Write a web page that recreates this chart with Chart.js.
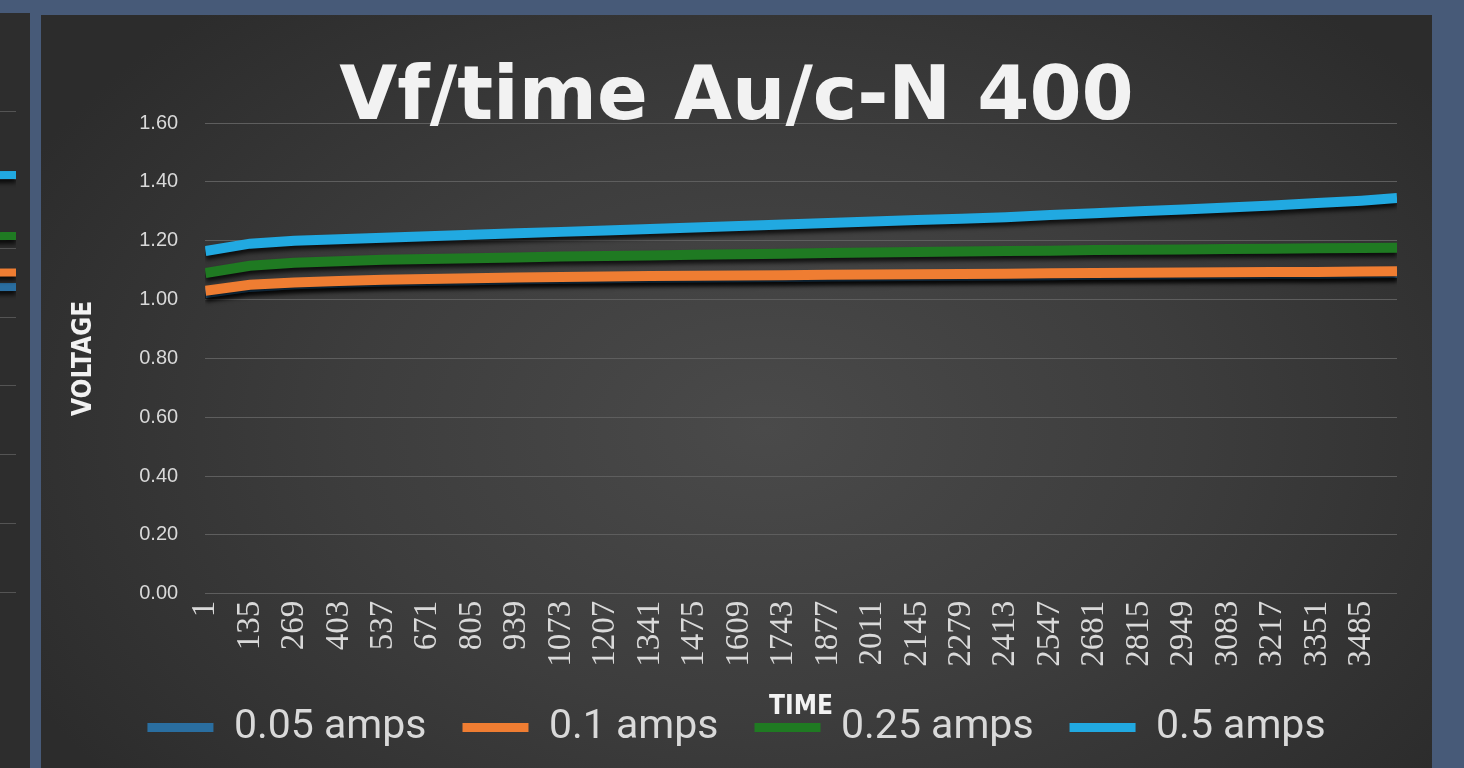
<!DOCTYPE html>
<html>
<head>
<meta charset="utf-8">
<script src="https://cdn.jsdelivr.net/npm/chart.js"></script>
<style>
  body { margin: 0; width: 1464px; height: 768px; background: #475a78; position: relative; overflow: hidden; }
  #side { position: absolute; left: 0; top: 13px; width: 30px; height: 755px; overflow: hidden; background: #2d2d2d; }
  #side canvas { position: absolute; left: -570px; top: 0; }
  #panel { position: absolute; left: 41px; top: 15px; width: 1391px; height: 753px;
    background: radial-gradient(ellipse 60% 75% at 52% 55%, #4a4a4a 0%, #3d3d3d 50%, #2c2c2c 100%); }
</style>
</head>
<body>
<div id="side"><canvas id="sideChart" width="600" height="755"></canvas></div>
<div id="panel"><canvas id="myChart" width="1391" height="753"></canvas></div>
<script>
// x axis labels (Excel category labels every 134 samples)
var timeTicks = [1, 135, 269, 403, 537, 671, 805, 939, 1073, 1207, 1341, 1475, 1609, 1743, 1877,
  2011, 2145, 2279, 2413, 2547, 2681, 2815, 2949, 3083, 3217, 3351, 3485];
// sample times
var sampleTimes = [1, 135, 269, 403, 537, 671, 805, 939, 1073, 1207, 1341, 1475, 1609, 1743, 1877,
  2011, 2145, 2279, 2413, 2547, 2681, 2815, 2949, 3083, 3217, 3351, 3485, 3592];

var amps005 = [1.022, 1.043, 1.052, 1.057, 1.061, 1.064, 1.066, 1.069, 1.071, 1.072, 1.074, 1.075, 1.076,
  1.077, 1.078, 1.079, 1.080, 1.081, 1.082, 1.083, 1.084, 1.085, 1.086, 1.087, 1.088, 1.088, 1.089, 1.090];
var amps01 = [1.030, 1.050, 1.058, 1.063, 1.067, 1.070, 1.072, 1.075, 1.077, 1.078, 1.080, 1.081, 1.082,
  1.083, 1.084, 1.085, 1.086, 1.087, 1.088, 1.089, 1.090, 1.091, 1.092, 1.093, 1.094, 1.094, 1.095, 1.096];
var amps025 = [1.090, 1.115, 1.125, 1.130, 1.135, 1.138, 1.140, 1.143, 1.146, 1.148, 1.150, 1.152, 1.154,
  1.156, 1.158, 1.160, 1.162, 1.163, 1.165, 1.166, 1.168, 1.169, 1.170, 1.172, 1.173, 1.174, 1.175, 1.176];
var amps05 = [1.165, 1.190, 1.200, 1.205, 1.210, 1.215, 1.220, 1.225, 1.230, 1.235, 1.240, 1.245, 1.250,
  1.255, 1.260, 1.265, 1.270, 1.275, 1.280, 1.287, 1.293, 1.300, 1.306, 1.313, 1.320, 1.328, 1.336, 1.345];

var seriesNames = ['0.05 amps', '0.1 amps', '0.25 amps', '0.5 amps'];
var seriesColors = ['#2a6ea0', '#ef7d32', '#1f7a22', '#21a9e1'];

// neighbouring chart, only its right end is visible
var sideTimes = [0, 50, 100];
var side005 = [0.880, 0.885, 0.888];
var side01 = [0.925, 0.928, 0.930];
var side025 = [1.030, 1.034, 1.036];
var side05 = [1.205, 1.210, 1.214];

Chart.defaults.color = '#d9d9d9';

var lineShadow = {
  id: 'lineShadow',
  beforeDatasetDraw: function (chart) {
    var c = chart.ctx;
    c.save();
    c.shadowColor = 'rgba(0,0,0,0.75)';
    c.shadowBlur = 4;
    c.shadowOffsetY = 4;
  },
  afterDatasetDraw: function (chart) {
    chart.ctx.restore();
  }
};

function points(xs, ys) {
  return xs.map(function (x, i) { return { x: x, y: ys[i] }; });
}

function makeSets(xs, lists, width) {
  return lists.map(function (ys, i) {
    return {
      label: seriesNames[i],
      data: points(xs, ys),
      borderColor: seriesColors[i],
      backgroundColor: seriesColors[i],
      borderWidth: width,
      pointRadius: 0,
      tension: 0,
      order: 4 - i
    };
  });
}

var condensedBold = "'DejaVu Sans Condensed', 'Liberation Sans Narrow', 'Liberation Sans'";

new Chart(document.getElementById('myChart'), {
  type: 'line',
  data: { datasets: makeSets(sampleTimes, [amps005, amps01, amps025, amps05], 10) },
  plugins: [lineShadow],
  options: {
    responsive: false,
    animation: false,
    layout: { padding: { left: 0, right: 0, top: 0, bottom: 10 } },
    plugins: {
      tooltip: { enabled: false },
      title: {
        display: true,
        text: 'Vf/time Au/c-N 400',
        color: '#f2f2f2',
        font: { family: 'DejaVu Sans', weight: 'bold', size: 75, lineHeight: 0.6 },
        padding: { top: 62, bottom: 1 }
      },
      legend: {
        position: 'bottom',
        labels: {
          color: '#d9d9d9',
          font: { family: 'Roboto', size: 41 },
          boxWidth: 66,
          boxHeight: 9,
          padding: 36,
          sort: function (a, b) { return a.datasetIndex - b.datasetIndex; },
          generateLabels: function (chart) {
            var items = Chart.defaults.plugins.legend.labels.generateLabels(chart);
            items.forEach(function (it) { it.lineWidth = 0; });
            return items;
          }
        }
      }
    },
    scales: {
      x: {
        type: 'linear',
        min: 0,
        max: 3592,
        afterBuildTicks: function (scale) {
          scale.ticks = timeTicks.map(function (v) { return { value: v }; });
        },
        grid: { display: false, drawTicks: false },
        border: { display: false },
        ticks: {
          autoSkip: false,
          minRotation: 90,
          maxRotation: 90,
          padding: 7,
          color: '#d9d9d9',
          font: { family: 'Liberation Serif', size: 33 },
          callback: function (v) { return String(v); }
        },
        title: {
          display: true,
          text: 'TIME',
          color: '#f2f2f2',
          font: { family: condensedBold, weight: 'bold', size: 26 },
          padding: { top: 18, bottom: -52 }
        }
      },
      y: {
        min: 0,
        max: 1.6,
        grid: { color: '#5e5e5e', lineWidth: 1, drawTicks: false },
        border: { display: false },
        ticks: {
          stepSize: 0.2,
          padding: 27,
          color: '#d9d9d9',
          font: { family: 'Liberation Sans', size: 20 },
          callback: function (v) { return v.toFixed(2); }
        },
        title: {
          display: true,
          text: 'VOLTAGE',
          color: '#f2f2f2',
          font: { family: condensedBold, weight: 'bold', size: 26 },
          padding: { top: 28, bottom: 12 }
        }
      },
      yRight: {
        type: 'linear',
        position: 'right',
        grid: { display: false, drawTicks: false },
        border: { display: false },
        ticks: { display: false },
        afterFit: function (scale) { scale.width = 35; }
      }
    }
  }
});

new Chart(document.getElementById('sideChart'), {
  type: 'line',
  data: { datasets: makeSets(sideTimes, [side005, side01, side025, side05], 8) },
  plugins: [lineShadow],
  options: {
    responsive: false,
    animation: false,
    layout: { padding: { left: 0, right: 14, top: 98, bottom: 176 } },
    plugins: { legend: { display: false }, tooltip: { enabled: false } },
    scales: {
      x: { type: 'linear', min: 0, max: 100, display: false },
      y: {
        min: 0,
        max: 1.4,
        grid: { color: '#545454', drawTicks: false },
        border: { display: false },
        ticks: { stepSize: 0.2, display: false }
      }
    }
  }
});
</script>
</body>
</html>
